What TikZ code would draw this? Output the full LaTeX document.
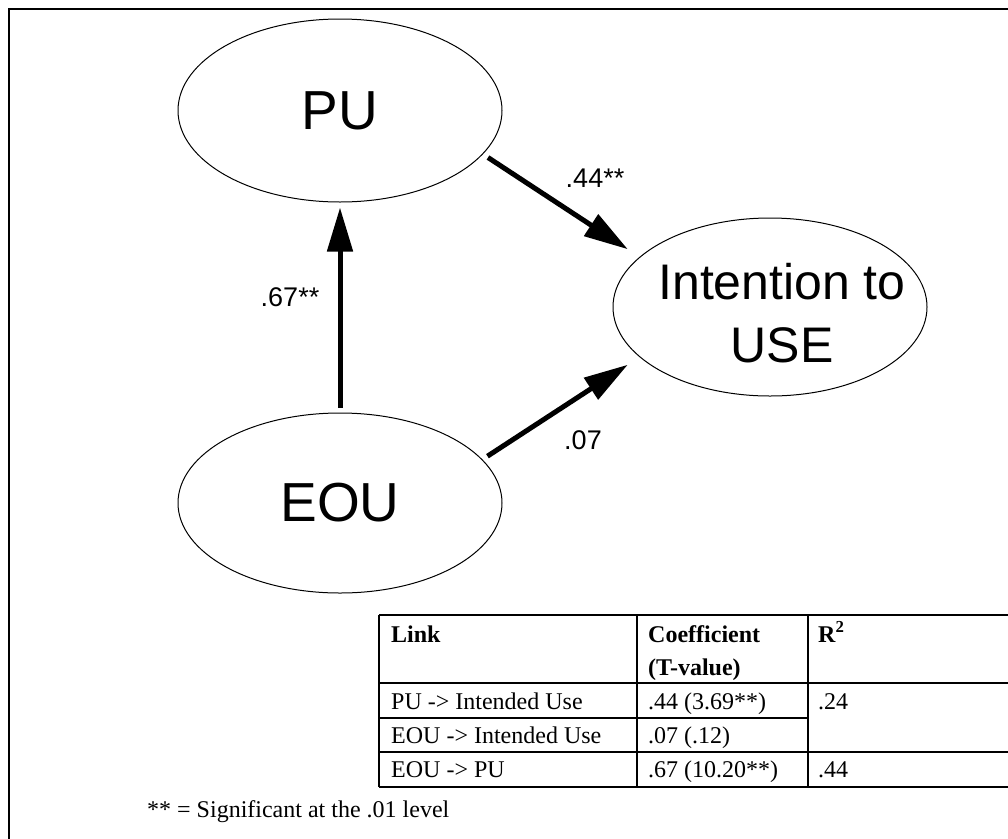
\documentclass[tikz,border=0pt]{standalone}
\usepackage{fontspec}
\setmainfont{Liberation Serif}
\newfontfamily\arial{Liberation Sans}
\usetikzlibrary{arrows.meta, shapes.geometric, positioning}

\begin{document}
\begin{tikzpicture}[x = 1pt, y = -1pt,
		construct/.style = {draw, ellipse, inner sep = 0pt, line width = 1pt, align = center, font = \arial\fontsize{55}{63}\selectfont},
		effect/.style = {line width = 5pt, -{Triangle[length = 44pt, width = 25pt]}},
		coef/.style = {inner sep = 0pt, font = \arial\fontsize{27}{30}\selectfont},
		cell/.style = {anchor = base west, inner sep = 0pt, font = \fontsize{24}{33}\selectfont}]
		\def\tl{379};
		\def\tm{637};
		\def\tr{808};
		\def\te{1015};
		
		\clip (0,0) rectangle (1008,838);
		\draw [line width = 2.5pt] (9,9) rectangle (1030,860);
		
		% constructs
		\node [construct, minimum width = 324pt, minimum height = 183pt] (PU) at (340,110.5) {PU};
		\node [construct, minimum width = 324pt, minimum height = 180pt] (EOU) at (340,503) {EOU};
		\node [construct, minimum width = 314pt, minimum height = 178pt] (ITU) at (770,307) {};
		\node [align = center, inner sep = 0pt, font = \arial\fontsize{50}{63}\selectfont] (ITUtext) at (782,313) {Intention to\\USE};
		
		\draw [effect, shorten < = 5pt, shorten > = 5pt] (EOU) -- (PU);
		\draw [effect, shorten < = 6pt, shorten > = 14pt] (PU.-17) -- (ITU.159);
		\draw [effect, shorten < = 6pt, shorten > = 14pt] (EOU.17) -- (ITU.201);
		
		\node [coef] (b44) at (595,178) {.44**};
		\node [coef] (b67) at (290,297) {.67**};
		\node [coef] (b07) at (583,440) {.07};
		
		% table
		\begin{scope}[line width = 2.5pt]
			\foreach \y in {615, 683, 752, 787}
				\draw (\tl,\y) -- (\te,\y);
			\draw (\tl,718) -- (\tr,718);
			\foreach \x in {\tl, \tm, \tr}
				\draw (\x,615) -- (\x,787);
		\end{scope}
		
		\node [cell, font = \fontsize{24}{33}\selectfont\bfseries] (hlink) at (391,642) {Link};
		\node [cell, font = \fontsize{24}{33}\selectfont\bfseries] (hcoef) at (648,642) {Coefficient};
		\node [cell, font = \fontsize{24}{33}\selectfont\bfseries] (htval) at (648,675) {(T-value)};
		\node [cell, font = \fontsize{24}{33}\selectfont\bfseries] (hrsq) at (818,642) {R\textsuperscript{2}};
		
		\node [cell] (link1) at (391,709) {PU -> Intended Use};
		\node [cell] (coef1) at (648,709) {.44 (3.69**)};
		\node [cell] (rsq1) at (818,709) {.24};
		\node [cell] (link2) at (391,743) {EOU -> Intended Use};
		\node [cell] (coef2) at (648,743) {.07 (.12)};
		\node [cell] (link3) at (391,777) {EOU -> PU};
		\node [cell] (coef3) at (648,777) {.67 (10.20**)};
		\node [cell] (rsq3) at (818,777) {.44};
		
		\node [cell] (note) at (147,817) {** = Significant at the .01 level};
	\end{tikzpicture}
\end{document}
